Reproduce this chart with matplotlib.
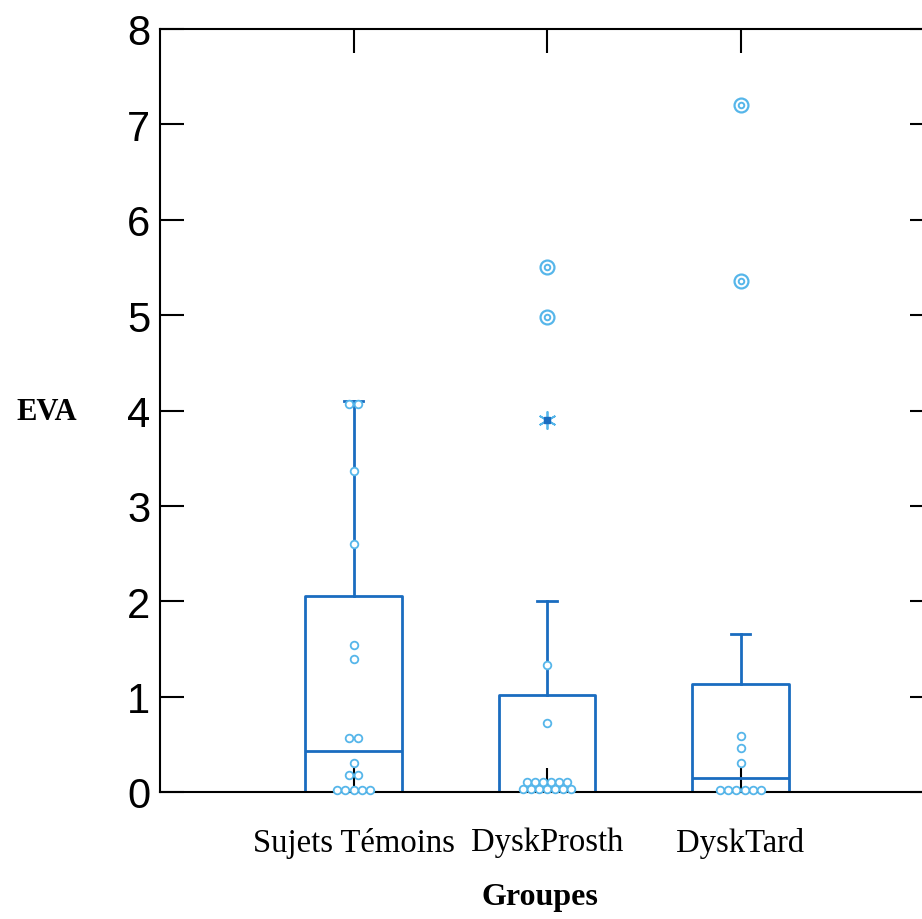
import numpy as np
import matplotlib.pyplot as plt

# groups on the x axis
groupes = ["Sujets Témoins", "DyskProsth", "DyskTard"]

# box statistics (EVA)
q1 = [0.0, 0.0, 0.0]
medianes = [0.43, 0.0, 0.15]
q3 = [2.06, 1.02, 1.13]
moustache_haut = [4.10, 2.00, 1.66]
moustache_bas = [0.0, 0.0, 0.0]

# individual values drawn as small open circles
points_temoins = [4.07, 4.07, 3.37, 2.60, 1.54, 1.39, 0.57, 0.57, 0.30,
                  0.18, 0.18, 0.02, 0.02, 0.02, 0.02, 0.02]
points_prosth = [1.33, 0.72, 0.10, 0.10, 0.10, 0.10, 0.10, 0.10,
                 0.03, 0.03, 0.03, 0.03, 0.03, 0.03, 0.03]
points_tard = [0.59, 0.46, 0.30, 0.02, 0.02, 0.02, 0.02, 0.02, 0.02]

# outliers: far ones (double circle) and near one (asterisk)
loin_prosth = [5.50, 4.98]
loin_tard = [7.20, 5.36]
proche_prosth = [3.90]

bleu = "#1a6cc0"
bleu_clair = "#56b6ea"

fig = plt.figure(figsize=(9.22, 9.20), dpi=100)
ax = fig.add_axes([160 / 922, 1 - 793 / 920, 774 / 922, 763 / 920])

stats = []
for i in range(3):
    stats.append(dict(med=medianes[i], q1=q1[i], q3=q3[i],
                      whislo=moustache_bas[i], whishi=moustache_haut[i],
                      fliers=[]))

ax.bxp(stats, positions=[1, 2, 3], widths=0.5, showfliers=False,
       capwidths=0.1, patch_artist=False,
       boxprops=dict(color=bleu, linewidth=2),
       medianprops=dict(color=bleu, linewidth=2),
       whiskerprops=dict(color=bleu, linewidth=2),
       capprops=dict(color=bleu, linewidth=2), zorder=2)


def etaler(valeurs, pos, pas=0.042):
    # spread equal values side by side
    xs, ys = [], []
    for v in sorted(set(valeurs)):
        n = valeurs.count(v)
        for k in range(n):
            xs.append(pos + (k - (n - 1) / 2) * pas)
            ys.append(v)
    return xs, ys


for pos, pts in zip([1, 2, 3], [points_temoins, points_prosth, points_tard]):
    xs, ys = etaler(pts, pos)
    ax.plot(xs, ys, "o", ms=5.5, mfc="white", mec=bleu_clair, mew=1.3,
            zorder=3, clip_on=False)

for pos, pts in zip([2, 3], [loin_prosth, loin_tard]):
    xs = [pos] * len(pts)
    ax.plot(xs, pts, "o", ms=10, mfc="white", mec=bleu_clair, mew=1.6,
            zorder=3)
    ax.plot(xs, pts, "o", ms=4, mfc="white", mec=bleu_clair, mew=1.4,
            zorder=4)

ax.plot([2] * len(proche_prosth), proche_prosth, marker=(6, 2, 0), ls="",
        ms=13, mec=bleu_clair, mew=1.3, zorder=3)
ax.plot([2] * len(proche_prosth), proche_prosth, "s", ms=4, color=bleu,
        zorder=4)

ax.set_xlim(0, 4)
ax.set_ylim(0, 8)
ax.set_xticks([1, 2, 3])
ax.set_xticklabels(groupes, family="Liberation Serif", fontsize=23.5)
ax.set_yticks(range(9))
ax.set_yticklabels([str(v) for v in range(9)], family="Liberation Sans",
                   fontsize=30)
ax.tick_params(direction="in", length=17, width=1.5, color="black",
               top=True, right=True)
ax.tick_params(axis="x", pad=25)
ax.tick_params(axis="y", pad=7)
for s in ax.spines.values():
    s.set_linewidth(1.5)

ax.set_xlabel("Groupes", family="Liberation Serif", fontweight="bold",
              fontsize=23, va="center")
ax.xaxis.set_label_coords((540 - 160) / 774, (793 - 898) / 763)
ax.set_ylabel("EVA", family="Liberation Serif", fontweight="bold",
              fontsize=22, rotation=0, ha="center", va="center")
ax.yaxis.set_label_coords((47 - 160) / 774, (793 - 413) / 763)

fig.savefig("out.png", dpi=100)
